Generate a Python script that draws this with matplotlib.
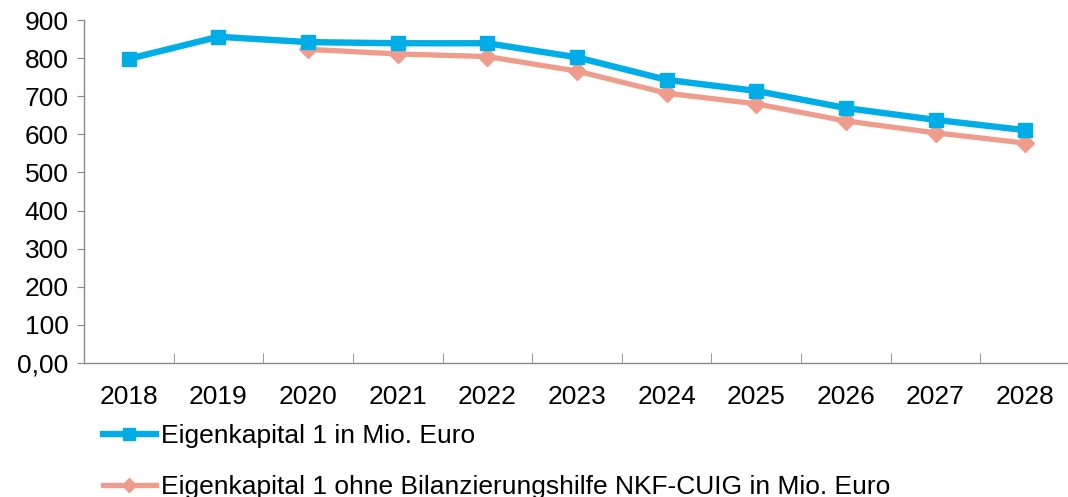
import matplotlib.pyplot as plt
import numpy as np

plt.rcParams['font.family'] = ['Liberation Sans', 'DejaVu Sans']

# Data
jahre = ['2018', '2019', '2020', '2021', '2022', '2023', '2024', '2025', '2026', '2027', '2028']
ek1 = [798, 856, 842, 839, 839, 802, 743, 714, 669, 638, 611]
ek1_ohne = [np.nan, np.nan, 823, 811, 804, 766, 708, 680, 635, 604, 577]
y_ticks = [0, 100, 200, 300, 400, 500, 600, 700, 800, 900]
y_labels = ['0,00', '100', '200', '300', '400', '500', '600', '700', '800', '900']

blau = '#00ADE6'
rosa = '#F09C8C'

fig = plt.figure(figsize=(10.68, 4.97), dpi=100)
ax = fig.add_axes([84 / 1068, 1 - 363 / 497, 986 / 1068, 343 / 497])

x_pos = np.arange(len(jahre))
ax.plot(x_pos, ek1, color=blau, lw=4.6, marker='s', markersize=10,
        label='Eigenkapital 1 in Mio. Euro', zorder=3)
ax.plot(x_pos, ek1_ohne, color=rosa, lw=3.8, marker='D', markersize=9,
        label='Eigenkapital 1 ohne Bilanzierungshilfe NKF-CUIG in Mio. Euro', zorder=2)

ax.set_xlim(-0.5, len(jahre) - 0.5)
ax.set_ylim(0, 900)
ax.set_yticks(y_ticks)
ax.set_yticklabels(y_labels)
ax.set_xticks(x_pos)
ax.set_xticklabels(jahre)
ax.set_xticks(np.arange(len(jahre) + 1) - 0.5, minor=True)

for s in ['top', 'right']:
    ax.spines[s].set_visible(False)
for s in ['left', 'bottom']:
    ax.spines[s].set_color('#888888')
    ax.spines[s].set_linewidth(1)

ax.tick_params(axis='y', labelsize=19, length=5, color='#888888', pad=6)
ax.tick_params(axis='x', which='major', labelsize=19, length=0, pad=16)
ax.tick_params(axis='x', which='minor', length=7, direction='in', color='#888888')

fig.legend(loc='upper left', bbox_to_anchor=(103 / 1068, 1 - 424 / 497),
           frameon=False, fontsize=19, handlelength=2.0, handletextpad=0.2,
           labelspacing=1.02, borderaxespad=0, borderpad=0, markerscale=0.8)

plt.savefig('out.png', dpi=100)
